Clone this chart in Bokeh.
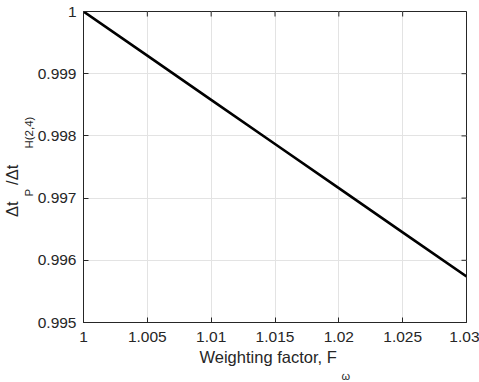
import math
from bokeh.plotting import figure
from bokeh.models import LinearAxis, FixedTicker, Range1d, Title
from bokeh.embed import file_html
from bokeh.resources import INLINE

# data
weighting_factor = [1.000, 1.005, 1.010, 1.015, 1.020, 1.025, 1.030]
dt_ratio = [1.00000, 0.99929, 0.99858, 0.99787, 0.99716, 0.99645, 0.99574]

x_ticks = [1.0, 1.005, 1.01, 1.015, 1.02, 1.025, 1.03]
x_tick_labels = ["1", "1.005", "1.01", "1.015", "1.02", "1.025", "1.03"]
y_ticks = [0.995, 0.996, 0.997, 0.998, 0.999, 1.0]
y_tick_labels = ["0.995", "0.996", "0.997", "0.998", "0.999", "1"]

x_label = "Weighting factor, F"
x_label_sub = "\u03c9"
y_label = "\u0394t\u2003/\u0394t"
y_label_sub = "P\u2003\u2003\u2003\u2002H(2,4)"

FONT = "Liberation Sans"
AX = "#262626"
TICK_FS = "15.5px"

p = figure(width=479, height=382, output_backend="svg", toolbar_location=None,
           x_range=Range1d(1.0, 1.03), y_range=Range1d(0.995, 1.0),
           min_border_left=81, min_border_right=13, min_border_top=11, min_border_bottom=60,
           x_axis_location=None, y_axis_location=None)
p.background_fill_color = "white"
p.border_fill_color = "white"
p.outline_line_color = AX
p.outline_line_width = 1

def style_axis(ax, ticks, labels):
    ax.ticker = FixedTicker(ticks=ticks)
    ax.major_tick_in = 5
    ax.major_tick_out = 0
    ax.minor_tick_line_color = None
    ax.axis_line_color = AX
    ax.major_tick_line_color = AX
    ax.axis_line_width = 1
    ax.major_label_overrides = {t: l for t, l in zip(ticks, labels)}
    ax.major_label_text_font = FONT
    ax.major_label_text_font_size = TICK_FS
    ax.major_label_text_color = AX

xb = LinearAxis(); style_axis(xb, x_ticks, x_tick_labels); xb.major_label_standoff = 9
yl = LinearAxis(); style_axis(yl, y_ticks, y_tick_labels); yl.major_label_standoff = 7
p.add_layout(xb, "below")
p.add_layout(yl, "left")

# box ticks on top and right (inward)
top_y = [1.0] * len(x_ticks)
right_x = [1.03] * len(y_ticks)
p.ray(x=x_ticks, y=top_y, length=5, length_units="screen", angle=-math.pi / 2,
      line_color=AX, line_width=1)
p.ray(x=right_x, y=y_ticks, length=5, length_units="screen", angle=math.pi,
      line_color=AX, line_width=1)

p.xgrid.ticker = FixedTicker(ticks=x_ticks)
p.ygrid.ticker = FixedTicker(ticks=y_ticks)
for g in (p.xgrid, p.ygrid):
    g.grid_line_color = "#e3e3e3"
    g.grid_line_width = 1

p.line(weighting_factor, dt_ratio, line_color="black", line_width=2.6)

def add_title(text, side, size, offset, standoff=0, line_height=1.2):
    p.add_layout(Title(text=text, align="left", offset=offset, standoff=standoff,
                       text_font=FONT, text_font_size=size, text_font_style="normal",
                       text_color=AX, text_line_height=line_height), side)

add_title(y_label_sub, "left", "11.5px", 126)
add_title(y_label, "left", "16.5px", 105.5)
add_title(x_label, "below", "16.5px", 116, 3)
add_title(x_label_sub, "below", "11px", 258, 0, 0.5)

open("out.html", "w").write(file_html(p, INLINE))
